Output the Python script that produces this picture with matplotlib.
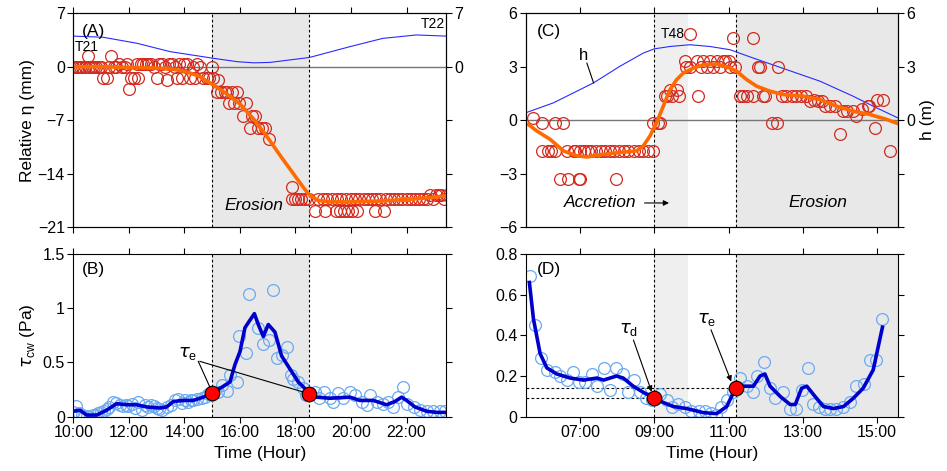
import numpy as np
import matplotlib
matplotlib.use('Agg')
import matplotlib.pyplot as plt

plt.rcParams['font.family'] = ['Liberation Sans', 'DejaVu Sans']
plt.rcParams['font.size'] = 11.5

# ---------------- panel A data (hours, mm) ----------------
a_t = [10.0, 10.08, 10.17, 10.25, 10.33, 10.42, 10.54, 10.58, 10.67, 10.75, 10.83, 10.92, 11.0,
       11.08, 11.2, 11.28, 11.34, 11.45, 11.55, 11.65, 11.75, 11.85, 11.95, 12.02, 12.08, 12.2,
       12.3, 12.34, 12.42, 12.5, 12.6, 12.7, 12.8, 12.9, 13.0, 13.1, 13.2, 13.3, 13.36, 13.45,
       13.55, 13.65, 13.72, 13.8, 13.9, 14.0, 14.1, 14.2, 14.3, 14.38, 14.45, 14.55, 14.68, 14.8,
       14.9, 15.0, 15.04, 15.22, 15.16, 15.3, 15.45, 15.55, 15.6, 15.7, 15.78, 15.88, 15.95, 16.1,
       16.2, 16.36, 16.45, 16.55, 16.65, 16.8, 16.9, 17.05, 17.88, 17.86, 18.0, 18.1, 18.2, 18.35,
       18.5, 18.69, 18.8, 19.05, 19.0, 19.15, 19.3, 19.47, 19.6, 19.75, 19.9, 20.05, 20.2, 19.5,
       19.65, 19.82, 20.0, 20.15, 20.3, 20.45, 20.6, 20.75, 20.85, 20.9, 21.05, 21.2, 21.25, 21.4,
       21.55, 21.7, 21.85, 22.0, 22.15, 22.3, 22.45, 22.6, 22.75, 22.85, 22.95, 23.05, 23.15,
       23.25, 23.35, 23.45]
a_eta = [0, 0, 0, 0, 0, 0, 1.4, 0, 0, 0, 0, 0, 0,
         -1.5, -1.5, 0, 1.4, 0, 0, 0.3, 0, 0, 0.3, -2.9, -1.5, -1.5,
         0.3, -1.5, 0.3, 0.3, 0.3, 0.3, 0.3, 0, -1.5, 0.3, 0.3, 0, -1.75, 0.3,
         0.3, 0, -1.5, 0.3, -1.5, 0.3, 0.3, -1.5, 0, -1.5, 0.3, 0, -1.5, -1.5,
         -1.5, 0, -1.5, -1.8, -3.3, -3.3, -3.3, -3.3, -4.8, -3.3, -4.8, -3.3, -4.8, -6.5,
         -4.8, -8.0, -6.5, -6.5, -8.0, -8.0, -8.0, -9.5, -15.7, -17.3, -17.3, -17.3, -17.3, -17.3,
         -17.3, -18.9, -17.3, -18.9, -17.3, -17.3, -17.3, -18.9, -18.9, -18.9, -18.9, -18.9, -18.9, -17.3,
         -17.3, -17.3, -17.3, -17.3, -17.3, -17.3, -17.3, -17.3, -18.9, -17.3, -17.3, -18.9, -17.3, -17.3,
         -17.3, -17.3, -17.3, -17.3, -17.3, -17.3, -17.3, -17.3, -17.3, -16.8, -17.3, -16.8, -16.8,
         -16.8, -17.3, -16.8]
a_fit_t = [10.0, 11.0, 12.0, 13.0, 13.5, 14.0, 14.5, 15.0, 15.5, 16.0, 16.5, 17.0, 17.5, 18.0,
           18.3, 18.5, 18.8, 19.2, 20.0, 21.0, 22.0, 23.0, 23.42]
a_fit = [0, 0, -0.1, -0.2, -0.3, -0.6, -1.2, -2.3, -3.5, -4.9, -6.9, -9.3, -11.9, -14.4,
         -15.9, -16.8, -17.5, -17.7, -17.7, -17.6, -17.4, -17.1, -16.9]
a_h_t = [10.0, 11.07, 12.28, 13.48, 15.03, 15.9, 16.5, 17.07, 18.5, 19.94, 21.14, 22.35, 23.42]
a_h = [4.0, 3.85, 3.07, 1.97, 1.1, 0.65, 0.5, 0.55, 1.2, 2.6, 3.7, 4.15, 4.0]

# ---------------- panel B data (hours, Pa) ----------------
b_t = [10.0, 10.1, 10.2, 10.3, 10.4, 10.5, 10.6, 10.7, 10.8, 10.9, 11.0, 11.1, 11.2, 11.3,
       11.44, 11.55, 11.68, 11.8, 11.9, 11.98, 12.1, 12.22, 12.34, 12.46, 12.58, 12.7, 12.8,
       12.9, 13.0, 13.1, 13.2, 13.36, 13.5, 13.66, 13.78, 13.9, 14.02, 14.14, 14.25, 14.32,
       14.45, 14.62, 14.74, 14.86, 14.95, 15.22, 15.35, 15.52, 15.64, 15.88, 15.98, 16.22,
       16.34, 16.66, 16.84, 17.06, 17.2, 17.32, 17.5, 17.7, 17.83, 17.92, 18.1, 18.26, 18.38,
       18.7, 18.86, 19.03, 19.24, 19.36, 19.54, 19.72, 19.96, 20.14, 20.38, 20.56, 20.68, 20.92,
       21.16, 21.34, 21.52, 21.7, 21.88, 22.0, 22.25, 22.48, 22.72, 22.96, 23.2, 23.4]
b_tau = [0.04, 0.1, 0.03, 0.02, 0.0, 0.01, 0.0, 0.02, 0.02, 0.03, 0.04, 0.05, 0.07, 0.09,
         0.14, 0.13, 0.11, 0.1, 0.11, 0.1, 0.12, 0.08, 0.14, 0.06, 0.11, 0.09, 0.11,
         0.1, 0.08, 0.07, 0.06, 0.09, 0.11, 0.15, 0.16, 0.13, 0.15, 0.14, 0.15, 0.15,
         0.16, 0.17, 0.18, 0.21, 0.2, 0.23, 0.29, 0.24, 0.38, 0.32, 0.74, 0.59,
         1.13, 0.82, 0.67, 0.71, 1.17, 0.54, 0.57, 0.64, 0.38, 0.35, 0.32, 0.26, 0.2,
         0.23, 0.17, 0.23, 0.17, 0.14, 0.22, 0.17, 0.23, 0.2, 0.14, 0.11, 0.2, 0.14,
         0.12, 0.14, 0.09, 0.18, 0.27, 0.12, 0.09, 0.06, 0.05, 0.05, 0.05, 0.05]
b_fit_t = [10.0, 10.24, 10.48, 10.84, 11.2, 11.56, 11.92, 12.28, 12.64, 13.12, 13.36, 13.6,
           13.96, 14.32, 14.68, 15.0, 15.4, 15.64, 15.82, 16.0, 16.18, 16.36, 16.52, 16.66,
           16.84, 17.02, 17.26, 17.5, 17.8, 18.1, 18.34, 18.52, 18.76, 19.24, 19.96, 20.32,
           20.8, 21.28, 21.58, 21.82, 22.0, 22.3, 22.72, 23.08, 23.4]
b_fit = [0.05, 0.06, 0.015, 0.015, 0.06, 0.12, 0.11, 0.11, 0.09, 0.08, 0.09, 0.14,
         0.15, 0.15, 0.18, 0.22, 0.28, 0.32, 0.48, 0.6, 0.82, 0.89, 0.95, 0.85,
         0.74, 0.85, 0.78, 0.56, 0.44, 0.32, 0.26, 0.22, 0.18, 0.17, 0.18, 0.15,
         0.15, 0.11, 0.14, 0.18, 0.15, 0.09, 0.05, 0.04, 0.04]
b_crit_t = [15.0, 18.5]
b_crit = [0.22, 0.21]

# ---------------- panel C data (hours, mm / m) ----------------
c_t = [5.74, 5.96, 5.96, 6.14, 6.2, 6.32, 6.32, 6.53, 6.46, 6.68, 6.64, 6.82, 6.85, 6.98, 7.0,
       7.0, 7.1, 7.2, 7.3, 7.42, 7.55, 7.68, 7.8, 7.96, 7.92, 8.05, 8.18, 8.3, 8.45, 8.58,
       8.7, 8.82, 8.97, 8.97, 9.1, 9.15, 9.29, 9.33, 9.42, 9.47, 9.62, 9.67, 9.83, 9.86,
       9.96, 9.96, 10.17, 10.14, 10.25, 10.32, 10.42, 10.5, 10.58, 10.68, 10.76, 10.86, 10.9,
       11.0, 11.04, 11.13, 11.17, 11.31, 11.4, 11.5, 11.67, 11.67, 11.8, 11.84, 11.94, 11.98,
       12.16, 12.3, 12.34, 12.43, 12.55, 12.7, 12.83, 12.96, 13.1, 13.2, 13.3, 13.4, 13.52,
       13.6, 13.73, 13.87, 14.0, 14.09, 14.2, 14.36, 14.45, 14.59, 14.77, 14.8, 14.95, 14.99,
       15.17, 15.35]
c_eta = [0.13, -0.19, -1.73, -1.73, -1.73, -1.73, -0.19, -0.19, -3.3, -3.3, -1.73, -1.73, -1.73, -3.3, -3.3,
         -1.73, -1.73, -1.73, -1.73, -1.73, -1.73, -1.73, -1.73, -3.3, -1.73, -1.73, -1.73, -1.73, -1.73, -1.73,
         -1.73, -1.73, -1.73, -0.19, -0.19, -0.19, 1.38, 1.38, 1.71, 1.38, 1.71, 1.38, 3.3, 3.0,
         3.0, 4.82, 1.38, 3.3, 3.0, 3.3, 3.0, 3.3, 3.0, 3.3, 3.0, 3.3, 3.3,
         3.3, 3.0, 4.6, 3.0, 1.38, 1.38, 1.38, 1.38, 4.6, 3.0, 3.0, 1.38, 1.38,
         -0.19, -0.19, 3.0, 1.38, 1.38, 1.38, 1.38, 1.38, 1.38, 1.06, 1.12, 1.06, 1.06,
         0.78, 0.78, 0.78, -0.76, 0.5, 0.5, 0.5, 0.22, 0.6, 0.78, 0.78, -0.43, 1.12,
         1.12, -1.73]
c_fit_t = [5.6, 5.83, 6.19, 6.55, 6.9, 7.18, 7.63, 8.07, 8.52, 8.7, 8.88, 9.06, 9.24, 9.42,
           9.6, 9.78, 10.05, 10.32, 10.68, 11.04, 11.22, 11.49, 11.76, 12.12, 12.48, 13.02,
           13.47, 13.91, 14.36, 14.8, 15.26, 15.56]
c_fit = [-0.24, -0.61, -1.08, -1.73, -2.0, -2.07, -1.92, -1.82, -1.73, -1.45, -0.9, -0.15,
         0.78, 1.71, 2.27, 2.64, 2.92, 3.1, 3.15, 2.92, 2.74, 2.27, 1.9, 1.62, 1.43, 1.34,
         1.15, 0.78, 0.5, 0.32, 0.04, -0.19]
c_h_t = [5.53, 6.28, 7.36, 8.07, 8.7, 9.0, 9.42, 9.96, 10.5, 11.04, 11.67, 12.57, 13.47,
         14.36, 14.99, 15.56]
c_h = [0.41, 0.97, 2.09, 3.02, 3.76, 4.0, 4.13, 4.23, 4.13, 3.95, 3.48, 2.83, 2.18, 1.34,
       0.69, 0.13]

# ---------------- panel D data (hours, Pa) ----------------
d_t = [5.65, 5.79, 5.95, 6.1, 6.32, 6.46, 6.64, 6.8, 6.98, 7.13, 7.31, 7.46, 7.63, 7.8,
       7.96, 8.15, 8.3, 8.46, 8.61, 8.77, 8.93, 9.15, 9.33, 9.47, 9.65, 9.83, 10.0, 10.19,
       10.37, 10.52, 10.66, 10.81, 10.97, 11.13, 11.31, 11.49, 11.65, 11.78, 11.96, 12.12,
       12.26, 12.48, 12.66, 12.82, 12.97, 13.13, 13.29, 13.45, 13.6, 13.73, 13.91, 14.08,
       14.27, 14.45, 14.66, 14.81, 14.97, 15.15]
d_tau = [0.69, 0.45, 0.29, 0.23, 0.22, 0.2, 0.18, 0.22, 0.17, 0.17, 0.21, 0.15, 0.24, 0.13,
         0.24, 0.21, 0.12, 0.18, 0.12, 0.09, 0.08, 0.11, 0.08, 0.05, 0.06, 0.05, 0.03, 0.03,
         0.03, 0.02, 0.01, 0.05, 0.08, 0.12, 0.19, 0.15, 0.12, 0.2, 0.27, 0.14,
         0.09, 0.12, 0.04, 0.04, 0.13, 0.24, 0.06, 0.05, 0.04, 0.04, 0.04, 0.05,
         0.07, 0.15, 0.16, 0.28, 0.28, 0.48]
d_fit_t = [5.63, 5.74, 5.92, 6.1, 6.37, 6.73, 7.09, 7.45, 7.63, 7.98, 8.16, 8.43, 8.7, 9.0,
           9.24, 9.51, 9.87, 10.32, 10.68, 10.95, 11.19, 11.4, 11.67, 11.85, 11.98, 12.12,
           12.39, 12.66, 12.8, 12.97, 13.11, 13.33, 13.56, 13.83, 14.1, 14.36, 14.63, 14.9, 15.15]
d_fit = [0.66, 0.48, 0.31, 0.24, 0.21, 0.19, 0.18, 0.19, 0.18, 0.2, 0.19, 0.15, 0.12, 0.09,
         0.07, 0.05, 0.04, 0.02, 0.015, 0.05, 0.14, 0.15, 0.15, 0.2, 0.21, 0.15,
         0.1, 0.06, 0.06, 0.14, 0.15, 0.1, 0.05, 0.04, 0.05, 0.09, 0.14, 0.23, 0.44]
d_crit_t = [9.0, 11.19]
d_crit = [0.09, 0.14]

RED = '#d42a1e'
ORANGE = '#ff6a00'
HBLUE = '#2a2aff'
LBLUE = '#6aaaf2'
DBLUE = '#0000cc'
SHADE = '#e8e8e8'
SHADE2 = '#efefef'
TICK = 11.5
LAB = 12.5

fig = plt.figure(figsize=(9.47, 4.71), dpi=100)
axA = fig.add_axes([0.0774, 0.518, 0.3936, 0.454])
axB = fig.add_axes([0.0774, 0.1153, 0.3936, 0.3454])
axC = fig.add_axes([0.5551, 0.518, 0.3928, 0.454])
axD = fig.add_axes([0.5551, 0.1153, 0.3928, 0.3454])


def style(ax):
    ax.tick_params(direction='out', length=4, width=0.8, top=True, right=True,
                   labelsize=TICK, pad=2)
    for s in ax.spines.values():
        s.set_linewidth(0.8)


def hour_labels(ax, ticks, show):
    ax.set_xticks(ticks)
    if show:
        ax.set_xticklabels(['%02d:00' % t for t in ticks])
        ax.set_xlabel('Time (Hour)', fontsize=LAB, labelpad=4)
    else:
        ax.set_xticklabels([])


def right_labels(ax, ticks, labels):
    ax2 = ax.twinx()
    ax2.set_ylim(ax.get_ylim())
    ax2.set_yticks(ticks)
    ax2.set_yticklabels(labels)
    ax2.tick_params(direction='out', length=4, width=0.8, labelsize=TICK, pad=2)
    return ax2


vline = dict(color='k', lw=0.8, ls=(0, (2.5, 2)), zorder=2)
MS = 8.5

# ---- A ----
axA.set_xlim(10.0, 23.42)
axA.set_ylim(-21, 7)
axA.axvspan(15.0, 18.5, color=SHADE, lw=0, zorder=0)
axA.axvline(15.0, **vline)
axA.axvline(18.5, **vline)
axA.axhline(0, color='#777777', lw=1.0, zorder=1)
axA.plot(a_h_t, a_h, color=HBLUE, lw=0.8, zorder=2)
axA.plot(a_t, a_eta, 'o', mfc='none', mec=RED, ms=MS, mew=0.9, zorder=3)
axA.plot(a_fit_t, a_fit, color=ORANGE, lw=2.6, zorder=4)
axA.set_yticks([7, 0, -7, -14, -21])
axA.set_ylabel('Relative η (mm)', fontsize=LAB, labelpad=2)
hour_labels(axA, [10, 12, 14, 16, 18, 20, 22], False)
style(axA)
axA.text(0.022, 0.95, '(A)', transform=axA.transAxes, fontsize=12.5, va='top')
axA.text(10.05, 2.6, 'T21', fontsize=10, va='center')
axA.text(23.38, 5.6, 'T22', fontsize=10, va='center', ha='right')
axA.text(16.5, -18.2, 'Erosion', fontsize=12.5, style='italic', ha='center', va='center')
right_labels(axA, [7, 0, -7, -14, -21], ['7', '0', '', '', ''])

# ---- B ----
axB.set_xlim(10.0, 23.42)
axB.set_ylim(0, 1.5)
axB.axvspan(15.0, 18.5, color=SHADE, lw=0, zorder=0)
axB.axvline(15.0, **vline)
axB.axvline(18.5, **vline)
axB.plot(b_t, b_tau, 'o', mfc='none', mec=LBLUE, ms=MS, mew=0.9, zorder=2)
axB.plot(b_fit_t, b_fit, color=DBLUE, lw=2.6, zorder=3)
axB.plot(b_crit_t, b_crit, 'o', ls='none', mfc='red', mec='k', ms=10.5, mew=0.8, zorder=5)
axB.set_yticks([0, 0.5, 1, 1.5])
axB.set_yticklabels(['0', '0.5', '1', '1.5'])
axB.set_ylabel(r'$\tau_{\mathregular{cw}}$ (Pa)', fontsize=LAB, labelpad=4)
hour_labels(axB, [10, 12, 14, 16, 18, 20, 22], True)
style(axB)
axB.text(0.022, 0.95, '(B)', transform=axB.transAxes, fontsize=12.5, va='top')
axB.text(14.1, 0.58, r'$\tau_{\mathregular{e}}$', fontsize=13, ha='center', va='center')
axB.plot([14.5, 14.94], [0.51, 0.26], color='k', lw=0.8, zorder=4)
axB.plot([14.56, 18.38], [0.51, 0.22], color='k', lw=0.8, zorder=4)

# ---- C ----
axC.set_xlim(5.53, 15.56)
axC.set_ylim(-6, 6)
axC.axvspan(9.0, 9.92, color=SHADE2, lw=0, zorder=0)
axC.axvspan(11.19, 15.56, color=SHADE, lw=0, zorder=0)
axC.axvline(9.0, **vline)
axC.axvline(11.19, **vline)
axC.axhline(0, color='#777777', lw=1.0, zorder=1)
axC.plot(c_h_t, c_h, color=HBLUE, lw=0.8, zorder=2)
axC.plot(c_t, c_eta, 'o', mfc='none', mec=RED, ms=MS, mew=0.9, zorder=3)
axC.plot(c_fit_t, c_fit, color=ORANGE, lw=2.6, zorder=4)
axC.set_yticks([6, 3, 0, -3, -6])
hour_labels(axC, [7, 9, 11, 13, 15], False)
style(axC)
axC.text(0.03, 0.95, '(C)', transform=axC.transAxes, fontsize=12.5, va='top')
axC.text(7.1, 3.65, 'h', fontsize=12, ha='center', va='center')
axC.plot([7.18, 7.36], [3.2, 2.09], color='k', lw=0.8)
axC.text(9.49, 4.82, 'T48', fontsize=10, ha='center', va='center')
axC.text(7.55, -4.65, 'Accretion', fontsize=12.5, style='italic', ha='center', va='center')
axC.annotate('', xy=(9.47, -4.65), xytext=(8.66, -4.65),
             arrowprops=dict(arrowstyle='-|>', color='k', lw=0.8, mutation_scale=8))
axC.text(13.4, -4.65, 'Erosion', fontsize=12.5, style='italic', ha='center', va='center')
axC2 = right_labels(axC, [6, 3, 0, -3, -6], ['6', '3', '0', '', ''])
axC2.set_ylabel('h (m)', fontsize=LAB, labelpad=4)

# ---- D ----
axD.set_xlim(5.53, 15.56)
axD.set_ylim(0, 0.8)
axD.axvspan(9.0, 9.92, color=SHADE2, lw=0, zorder=0)
axD.axvspan(11.19, 15.56, color=SHADE, lw=0, zorder=0)
axD.axvline(9.0, **vline)
axD.axvline(11.19, **vline)
axD.plot([5.53, d_crit_t[0]], [d_crit[0], d_crit[0]], **vline)
axD.plot([5.53, d_crit_t[1]], [d_crit[1], d_crit[1]], **vline)
axD.plot(d_t, d_tau, 'o', mfc='none', mec=LBLUE, ms=MS, mew=0.9, zorder=2)
axD.plot(d_fit_t, d_fit, color=DBLUE, lw=2.6, zorder=3)
axD.plot(d_crit_t, d_crit, 'o', ls='none', mfc='red', mec='k', ms=10.5, mew=0.8, zorder=5)
axD.set_yticks([0, 0.2, 0.4, 0.6, 0.8])
axD.set_yticklabels(['0', '0.2', '0.4', '0.6', '0.8'])
hour_labels(axD, [7, 9, 11, 13, 15], True)
style(axD)
axD.text(0.03, 0.95, '(D)', transform=axD.transAxes, fontsize=12.5, va='top')
axD.text(8.3, 0.43, r'$\tau_{\mathregular{d}}$', fontsize=13, ha='center', va='center')
axD.annotate('', xy=(8.95, 0.11), xytext=(8.41, 0.39),
             arrowprops=dict(arrowstyle='-|>', color='k', lw=0.8, mutation_scale=8))
axD.text(10.41, 0.48, r'$\tau_{\mathregular{e}}$', fontsize=13, ha='center', va='center')
axD.annotate('', xy=(11.1, 0.16), xytext=(10.5, 0.44),
             arrowprops=dict(arrowstyle='-|>', color='k', lw=0.8, mutation_scale=8))

fig.savefig('out.png', dpi=100)
